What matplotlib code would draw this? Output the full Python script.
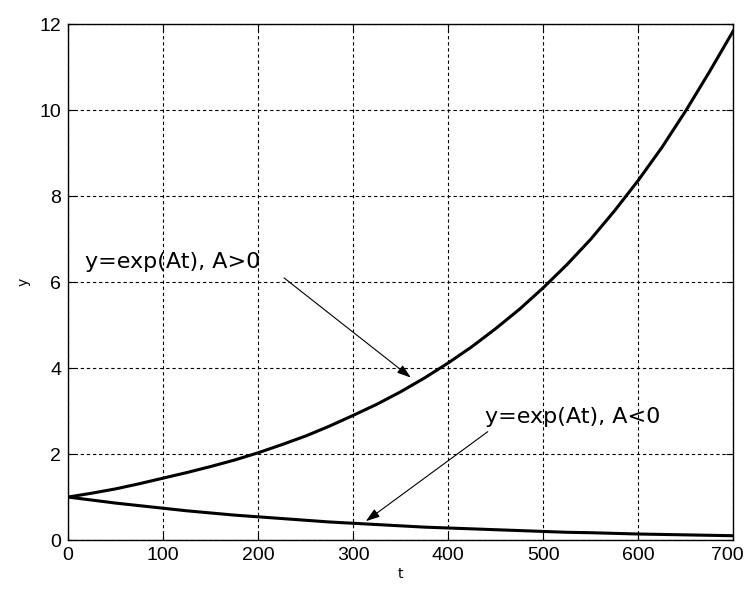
import numpy as np
import matplotlib.pyplot as plt
import matplotlib.transforms as mtransforms

# values
t = [0, 25, 50, 75, 100, 125, 150, 175, 200, 225, 250, 275, 300, 325, 350,
     375, 400, 425, 450, 475, 500, 525, 550, 575, 600, 625, 650, 675, 700]
y_grow = [1.0, 1.09, 1.19, 1.31, 1.44, 1.57, 1.71, 1.86, 2.03, 2.22, 2.42, 2.65,
          2.90, 3.16, 3.45, 3.77, 4.12, 4.50, 4.92, 5.37, 5.87, 6.41, 7.00, 7.66,
          8.37, 9.14, 9.99, 10.90, 11.85]
y_decay = [1.0, 0.93, 0.86, 0.80, 0.74, 0.68, 0.63, 0.58, 0.54, 0.50, 0.46, 0.42,
           0.39, 0.36, 0.33, 0.30, 0.28, 0.26, 0.24, 0.22, 0.20, 0.18, 0.17, 0.155,
           0.14, 0.13, 0.12, 0.11, 0.10]

x_ticks = [0, 100, 200, 300, 400, 500, 600, 700]
y_ticks = [0, 2, 4, 6, 8, 10, 12]

label_up = 'y=exp(At), A>0'
label_down = 'y=exp(At), A<0'

fig = plt.figure(figsize=(7.45, 5.9), dpi=100)
ax = fig.add_axes([0.0913, 0.0847, 0.893, 0.874])

ax.plot(t, y_grow, color='black', linewidth=2.2)
ax.plot(t, y_decay, color='black', linewidth=2.2)

ax.set_xlim(0, 700)
ax.set_ylim(0, 12)
ax.set_xticks(x_ticks)
ax.set_yticks(y_ticks)
ax.grid(True, color='black', linestyle=(0, (3, 2.5)), linewidth=0.8)
ax.tick_params(direction='in', top=True, right=True, length=5, width=0.8, pad=5)
for lbl in ax.get_xticklabels() + ax.get_yticklabels():
    lbl.set_fontfamily('Liberation Sans')
    lbl.set_fontsize(14)
# keep the last x label inside the picture
last = ax.get_xticklabels()[-1]
last.set_transform(last.get_transform() +
                   mtransforms.ScaledTranslation(-6 / 100, 0, fig.dpi_scale_trans))
for s in ax.spines.values():
    s.set_linewidth(1.0)

ax.set_xlabel('t', fontsize=10, labelpad=2)
ax.set_ylabel('y', fontsize=10, labelpad=6)

arrow = dict(arrowstyle='-|>,head_length=0.6,head_width=0.2', color='black', lw=0.8,
             mutation_scale=14)
ax.annotate('', xy=(363, 3.74), xytext=(225, 6.14), arrowprops=arrow)
ax.annotate('', xy=(311, 0.40), xytext=(444, 2.56), arrowprops=arrow)
ax.text(18, 6.33, label_up, fontsize=16, family='DejaVu Sans', va='baseline')
ax.text(439, 2.72, label_down, fontsize=16, family='DejaVu Sans', va='baseline')

fig.savefig('out.png', dpi=100)
